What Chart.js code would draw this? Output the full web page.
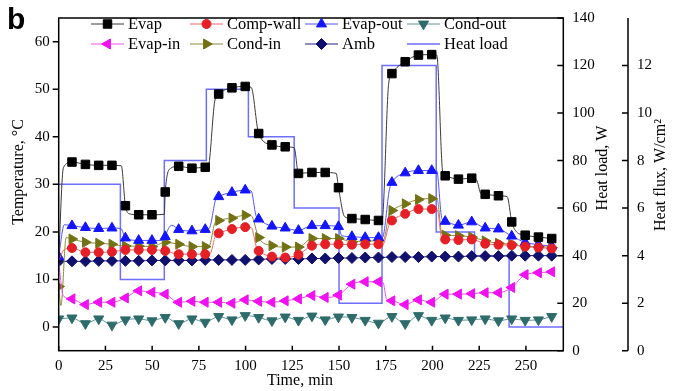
<!DOCTYPE html>
<html>
<head>
<meta charset="utf-8">
<script src="https://cdn.jsdelivr.net/npm/chart.js@4.4.0/dist/chart.umd.min.js"></script>
<style>
    html, body { margin: 0; padding: 0; background: #fff; }
</style>
</head>
<body>
<canvas id="grafico" width="683" height="391"></canvas>
<script>
// tiempos de cada marcador (min)
const tiempos = [0, 7.1, 14.3, 21.4, 28.5, 35.7, 42.8, 49.9, 57.0, 64.2, 71.3, 78.4, 85.6, 92.7, 99.8, 107.0, 114.1, 121.2, 128.3, 135.5, 142.6, 149.7, 156.9, 164.0, 171.1, 178.3, 185.4, 192.5, 199.6, 206.8, 213.9, 221.0, 228.2, 235.3, 242.4, 249.6, 256.7, 263.8];

// valores en los marcadores (null = sin marcador)
const evap     = [null, 34.7, 34.2, 34.0, 34.0, 25.5, 23.6, 23.6, 28.4, 33.8, 33.4, 33.6, 49.0, 50.3, 50.6, 40.7, 38.3, 37.9, 32.3, 32.5, 32.5, 29.3, 22.8, 22.6, 22.4, 53.3, 55.8, 57.2, 57.3, 31.8, 31.1, 31.3, 27.9, 27.6, 22.1, 19.3, 18.9, 18.6];
const compWall = [null, 16.6, 15.7, 15.7, 15.8, 16.2, 16.2, 16.2, 16.0, 15.3, 15.3, 15.3, 19.7, 20.6, 21.0, 16.0, 14.8, 14.6, 15.2, 17.1, 17.4, 17.4, 17.3, 17.4, 17.4, 22.4, 23.8, 24.8, 24.8, 18.4, 18.3, 18.4, 17.5, 17.3, 17.2, 16.9, 16.7, 16.5];
const evapOut  = [14.8, 21.3, 20.9, 20.7, 20.8, 18.7, 18.2, 18.2, 19.0, 20.5, 20.2, 20.5, 27.4, 28.3, 28.8, 22.7, 21.2, 20.8, 20.3, 21.3, 21.3, 21.1, 19.0, 18.8, 18.8, 30.4, 32.4, 32.9, 32.9, 22.2, 21.4, 22.1, 20.8, 20.6, 19.1, 17.8, 17.3, 17.0];
const condOut  = [1.7, 1.9, 0.7, 1.7, 0.4, 1.5, 1.7, 1.3, 2.0, 0.7, 1.7, 1.0, 2.2, 1.5, 2.4, 2.0, 1.3, 2.1, 1.4, 2.3, 1.5, 2.1, 2.0, 1.4, 0.8, 2.2, 0.7, 2.4, 1.4, 1.9, 1.4, 1.5, 1.7, 1.3, 1.7, 1.4, 1.5, 2.2];
const evapIn   = [null, 5.9, 4.7, 5.2, 5.2, 6.1, 7.6, 7.3, 6.9, 5.2, 5.4, 5.2, 5.2, 5.0, 5.7, 5.4, 5.2, 5.5, 5.9, 6.6, 6.2, 6.7, 9.0, 9.5, 9.5, 5.5, 4.7, 5.7, 5.2, 6.9, 6.9, 7.0, 7.2, 7.2, 8.3, 11.0, 11.4, 11.6];
const condIn   = [8.5, 18.5, 17.8, 17.6, 17.4, 17.0, 17.0, 16.9, 17.8, 17.4, 16.9, 16.9, 22.4, 22.9, 23.5, 18.8, 17.1, 16.8, 16.8, 18.6, 18.6, 18.6, 17.9, 18.1, 18.1, 24.5, 25.9, 26.8, 27.0, 19.3, 19.2, 18.9, 18.1, 17.6, 17.4, 16.9, 16.9, 16.7];
const amb      = [13.8, 13.8, 13.8, 13.9, 13.9, 13.9, 13.9, 14.0, 14.0, 14.0, 14.0, 14.1, 14.1, 14.1, 14.1, 14.2, 14.3, 14.3, 14.3, 14.4, 14.4, 14.5, 14.5, 14.6, 14.6, 14.7, 14.7, 14.7, 14.8, 14.8, 14.8, 14.9, 14.9, 14.9, 15.0, 15.0, 15.0, 15.0];

// puntos de la curva sin marcador (cambios bruscos)
const evapFormaT     = [0, 2.5, 33.5, 38, 56.5, 60, 80, 83.5, 103, 126, 148.5, 153, 173, 176.5, 202.3, 205.5, 223.5, 226, 240, 245];
const evapFormaV     = [14.5, 33.5, 33.9, 23.8, 23.7, 33.4, 33.8, 47.5, 50.4, 37.7, 32.3, 23.2, 22.4, 51.0, 57.2, 32.5, 31.0, 28.0, 27.4, 20.0];
const compWallFormaT = [0, 3, 81, 84, 103, 106, 173.5, 177, 202.5, 205];
const compWallFormaV = [14.0, 16.3, 15.4, 19.3, 20.9, 16.5, 17.4, 21.8, 24.7, 18.6];
const evapOutFormaT  = [3, 33.3, 56.5, 60.5, 80.5, 84, 103, 105.5, 151.5, 173.2, 177, 202.3, 205];
const evapOutFormaV  = [21.5, 20.7, 18.2, 21.4, 20.7, 26.8, 28.6, 23.5, 19.2, 18.8, 29.0, 32.8, 22.8];
const evapInFormaT   = [0, 2.5, 173.5, 175.5];
const evapInFormaV   = [13.5, 6.5, 9.4, 5.8];
const condInFormaT   = [1.2, 4, 80.5, 83.5, 103, 173.5, 177, 202.5, 205];
const condInFormaV   = [4.5, 18.8, 17.0, 21.8, 23.4, 18.1, 24.0, 26.9, 19.6];

// carga termica (W), escalones
const tiemposCarga = [0, 33, 56.5, 79, 101.5, 126, 150, 173, 202, 222.5, 241, 270];
const carga        = [70, 30, 80, 110, 90, 60, 20, 120, 50, 40, 10, 10];

const ticksTiempo = [0, 25, 50, 75, 100, 125, 150, 175, 200, 225, 250];
const ticksTemp   = [0, 10, 20, 30, 40, 50, 60];
const ticksCarga  = [0, 20, 40, 60, 80, 100, 120, 140];
const ticksFlujo  = [0, 2, 4, 6, 8, 10, 12];

const fuente = "'Liberation Serif', 'Times New Roman', serif";

function combinar(valores, formaT, formaV) {
    const pts = [];
    valores.forEach((v, i) => {
        if (v !== null) pts.push({ x: tiempos[i], y: v, m: true });
    });
    (formaT || []).forEach((t, i) => pts.push({ x: t, y: formaV[i], m: false }));
    return pts.sort((a, b) => a.x - b.x);
}

function serie(label, datos, marcador, linea, estilo, rotacion, radio) {
    return {
        label: label,
        data: datos,
        borderColor: linea,
        backgroundColor: marcador,
        pointBackgroundColor: marcador,
        pointBorderColor: marcador,
        pointBorderWidth: 1,
        borderWidth: 1,
        pointStyle: estilo,
        pointRotation: rotacion,
        pointRadius: ctx => (ctx.raw && ctx.raw.m) ? radio : 0,
        legendRadius: radio,
        cubicInterpolationMode: 'monotone',
        yAxisID: 'y'
    };
}

const datasets = [
    serie('Evap', combinar(evap, evapFormaT, evapFormaV), '#000000', '#3a3a3a', 'rect', 0, 6),
    serie('Comp-wall', combinar(compWall, compWallFormaT, compWallFormaV), '#e61e26', '#f06868', 'circle', 0, 4.5),
    serie('Evap-out', combinar(evapOut, evapOutFormaT, evapOutFormaV), '#1414ff', '#5050ff', 'triangle', 0, 5.8),
    serie('Cond-out', combinar(condOut), '#2e6b6b', '#5f9494', 'triangle', 180, 5.8),
    serie('Evap-in', combinar(evapIn, evapInFormaT, evapInFormaV), '#f010f0', '#f050f0', 'triangle', 270, 5.8),
    serie('Cond-in', combinar(condIn, condInFormaT, condInFormaV), '#727214', '#8c8c3c', 'triangle', 90, 5.8),
    serie('Amb', combinar(amb), '#10106e', '#1e1e84', 'rectRot', 0, 5.5),
    {
        label: 'Heat load',
        data: tiemposCarga.map((t, i) => ({ x: t, y: carga[i] })),
        borderColor: '#6e6eff',
        backgroundColor: '#6e6eff',
        borderWidth: 1.5,
        pointRadius: 0,
        stepped: true,
        yAxisID: 'yLoad'
    }
];

function ponerTicks(valores) {
    return function(eje) {
        eje.ticks = valores.map(v => ({ value: v }));
    };
}

function tituloVertical(ctx, texto, x, y) {
    ctx.save();
    ctx.translate(x, y);
    ctx.rotate(-Math.PI / 2);
    ctx.textAlign = 'center';
    ctx.textBaseline = 'middle';
    ctx.fillText(texto, 0, 0);
    ctx.restore();
}

const marcoPlugin = {
    id: 'marco',
    afterDraw(chart) {
        const ctx = chart.ctx;
        const area = chart.chartArea;
        const sx = chart.scales.x;
        const sy = chart.scales.y;
        const sl = chart.scales.yLoad;
        const sf = chart.scales.yFlux;

        ctx.save();
        ctx.strokeStyle = '#000';
        ctx.lineWidth = 1.5;
        ctx.strokeRect(area.left, area.top, area.right - area.left, area.bottom - area.top);

        ctx.beginPath();
        ctx.moveTo(sf.left, area.top);
        ctx.lineTo(sf.left, area.bottom);
        sx.ticks.forEach(t => {
            const p = sx.getPixelForValue(t.value);
            ctx.moveTo(p, area.bottom);
            ctx.lineTo(p, area.bottom - 5);
        });
        sy.ticks.forEach(t => {
            const p = sy.getPixelForValue(t.value);
            ctx.moveTo(area.left, p);
            ctx.lineTo(area.left - 6, p);
        });
        sl.ticks.forEach(t => {
            const p = sl.getPixelForValue(t.value);
            ctx.moveTo(area.right, p);
            ctx.lineTo(area.right - 6, p);
        });
        sf.ticks.forEach(t => {
            const p = sf.getPixelForValue(t.value);
            ctx.moveTo(sf.left, p);
            ctx.lineTo(sf.left - 6, p);
        });
        ctx.stroke();

        // titulos de ejes
        ctx.fillStyle = '#000';
        ctx.font = '16px ' + fuente;
        tituloVertical(ctx, 'Temperature, \u00b0C', 19, 172);
        tituloVertical(ctx, 'Heat load, W', 603, 168);
        tituloVertical(ctx, 'Heat flux, W/cm\u00b2', 661, 175);
        ctx.textAlign = 'center';
        ctx.textBaseline = 'middle';
        ctx.fillText('Time, min', 300, 381);

        // leyenda
        const colX = [91, 190, 305, 407];
        const filaY = [24, 44];
        ctx.font = '16.5px ' + fuente;
        chart.data.datasets.forEach((ds, i) => {
            const x0 = colX[i % 4];
            const y0 = filaY[Math.floor(i / 4)];
            ctx.strokeStyle = ds.borderColor;
            ctx.lineWidth = ds.borderWidth;
            ctx.beginPath();
            ctx.moveTo(x0, y0);
            ctx.lineTo(x0 + 33, y0);
            ctx.stroke();
            if (ds.pointStyle) {
                ctx.fillStyle = ds.pointBackgroundColor;
                ctx.strokeStyle = ds.pointBorderColor;
                ctx.lineWidth = 1;
                Chart.helpers.drawPoint(ctx, {
                    pointStyle: ds.pointStyle,
                    rotation: ds.pointRotation,
                    radius: ds.legendRadius,
                    borderWidth: 1
                }, x0 + 16.5, y0);
            }
            ctx.fillStyle = '#000';
            ctx.textAlign = 'left';
            ctx.textBaseline = 'middle';
            ctx.fillText(ds.label, x0 + 37, y0 + 1);
        });

        // etiqueta del panel
        ctx.font = "bold 30px 'Liberation Sans', Arial, sans-serif";
        ctx.textAlign = 'left';
        ctx.textBaseline = 'alphabetic';
        ctx.fillText('b', 7, 29);
        ctx.restore();
    }
};

const tickFont = { family: fuente, size: 15 };

new Chart(document.getElementById('grafico').getContext('2d'), {
    type: 'line',
    data: { datasets: datasets },
    options: {
        responsive: false,
        animation: false,
        layout: { padding: { top: 13.3, left: 0, right: 0, bottom: 0 } },
        plugins: { legend: { display: false }, tooltip: { enabled: false } },
        scales: {
            x: {
                type: 'linear',
                min: 0,
                max: 270,
                grid: { display: false, drawTicks: false },
                border: { display: false },
                afterBuildTicks: ponerTicks(ticksTiempo),
                afterFit: s => { s.height = 40.3; },
                ticks: { color: '#000', font: tickFont, padding: 6, maxRotation: 0 }
            },
            y: {
                position: 'left',
                min: -5,
                max: 65,
                grid: { display: false, drawTicks: false },
                border: { display: false },
                afterBuildTicks: ponerTicks(ticksTemp),
                afterFit: s => { s.width = 58.7; },
                ticks: { color: '#000', font: tickFont, padding: 9 }
            },
            yLoad: {
                position: 'right',
                min: 0,
                max: 140,
                grid: { display: false, drawTicks: false },
                border: { display: false },
                afterBuildTicks: ponerTicks(ticksCarga),
                afterFit: s => { s.width = 64.7; },
                ticks: { color: '#000', font: tickFont, padding: 9 }
            },
            yFlux: {
                position: 'right',
                min: 0,
                max: 14,
                grid: { display: false, drawTicks: false },
                border: { display: false },
                afterBuildTicks: ponerTicks(ticksFlujo),
                afterFit: s => { s.width = 55; },
                ticks: { color: '#000', font: tickFont, padding: 9 }
            }
        }
    },
    plugins: [marcoPlugin]
});
</script>
</body>
</html>
